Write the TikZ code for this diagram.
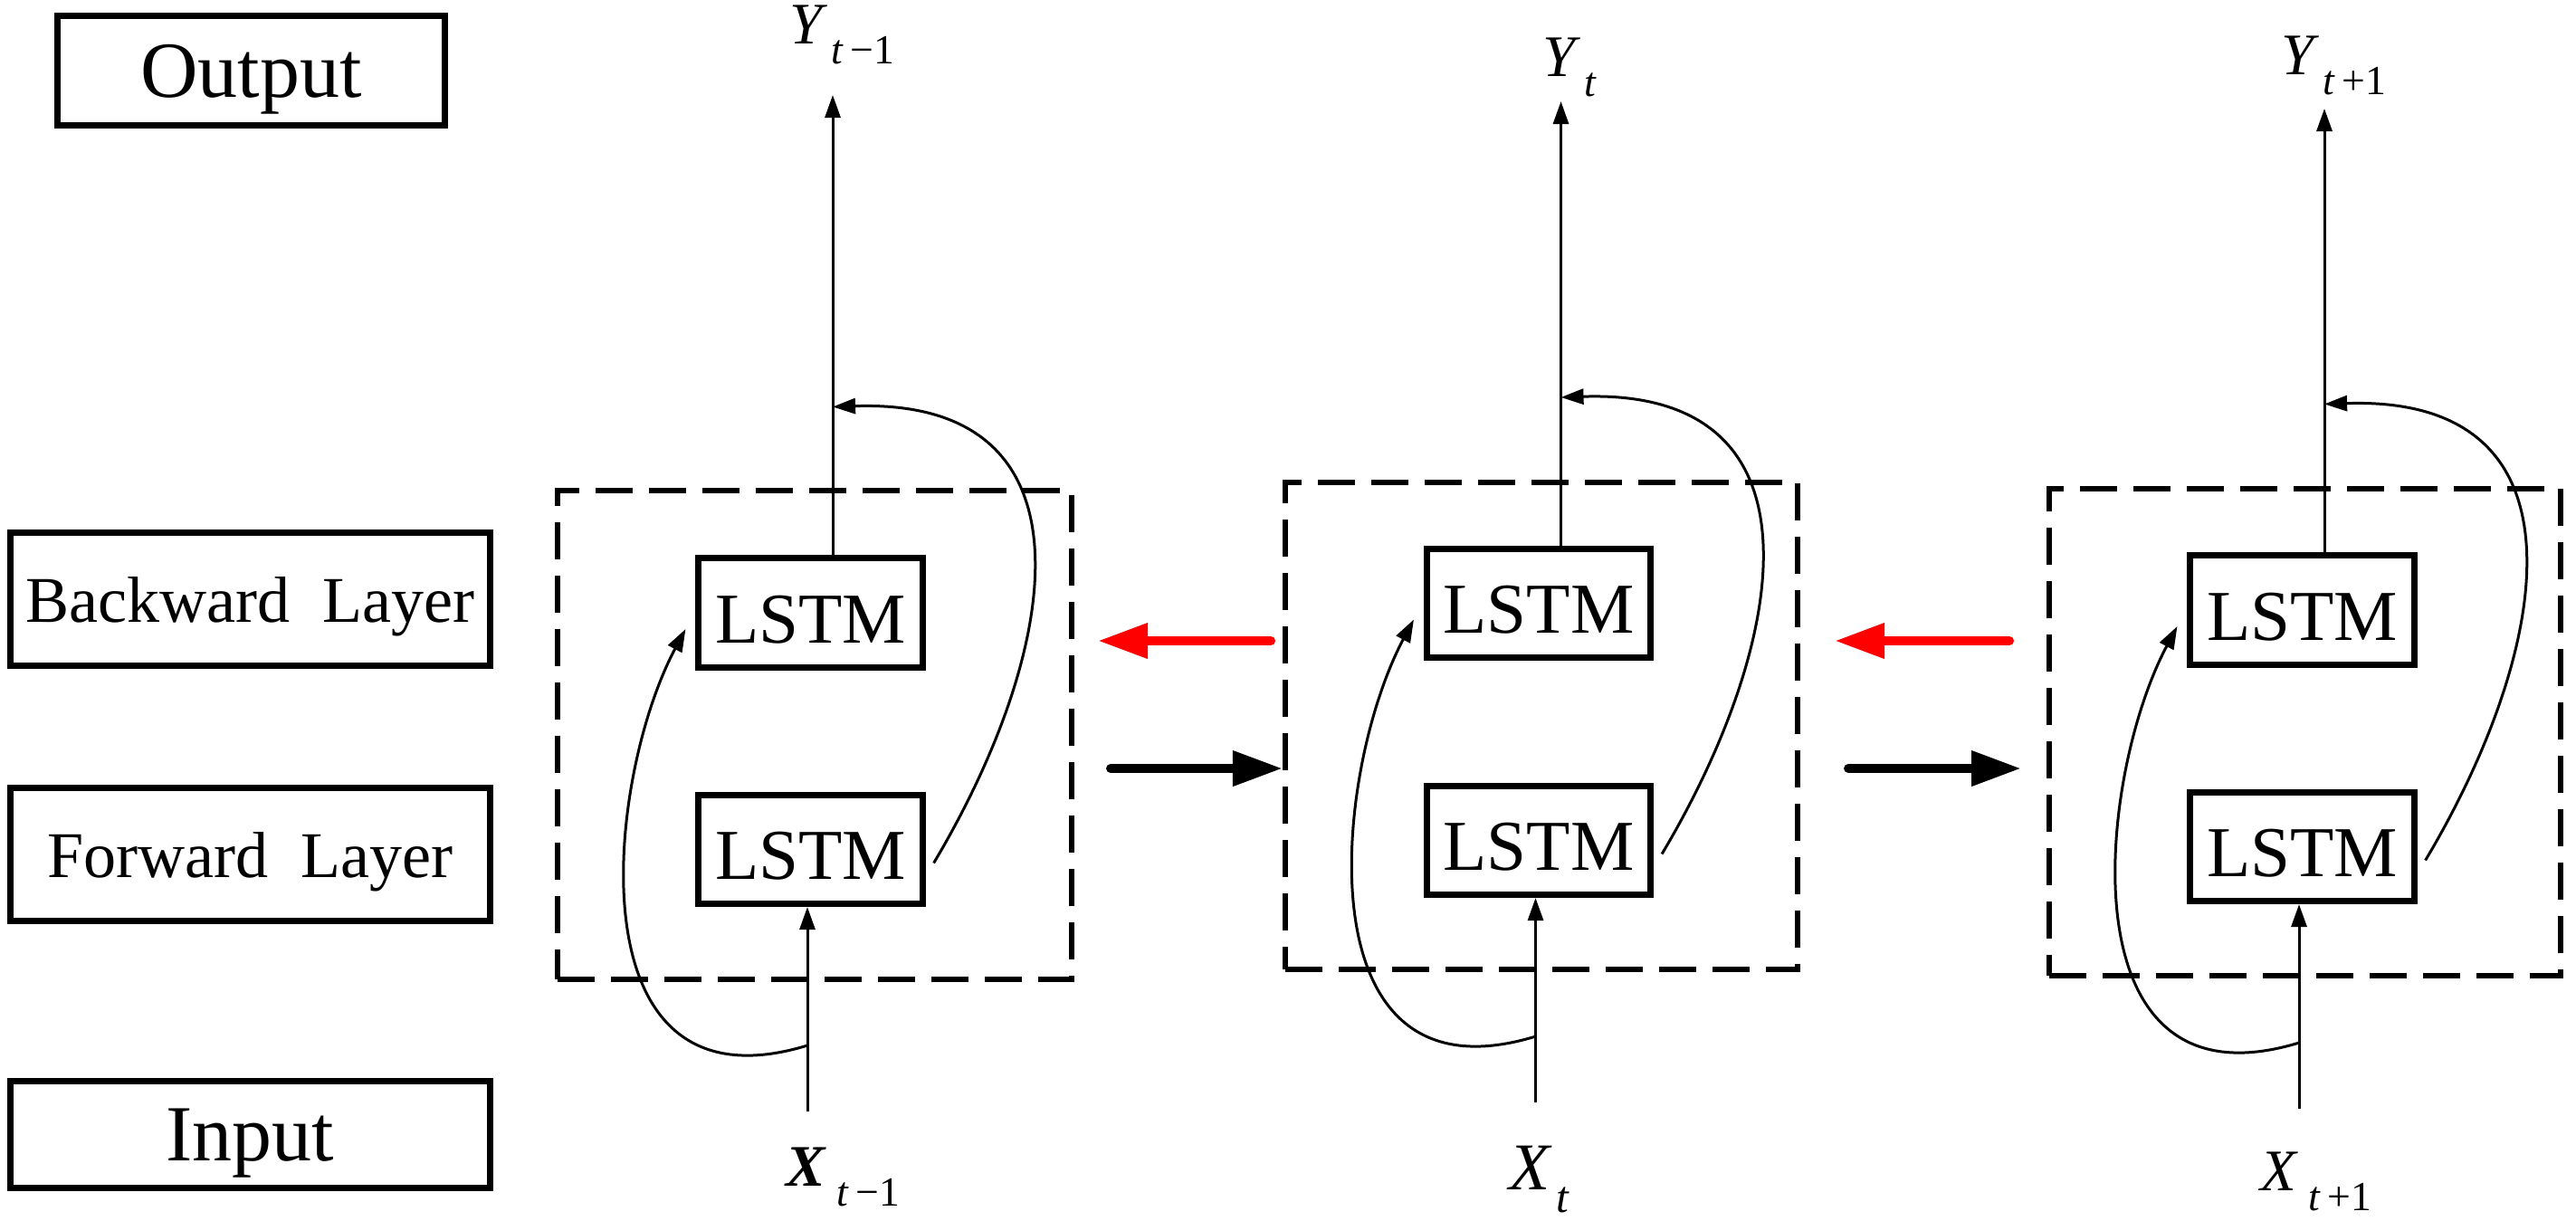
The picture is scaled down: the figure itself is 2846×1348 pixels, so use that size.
\documentclass[tikz,border=0pt]{standalone}
\usepackage{fontspec}
\setmainfont{Liberation Serif}
\usetikzlibrary{calc,arrows.meta}
\newcommand{\varlab}[3]{#1\kern0.06em\raisebox{-0.34em}{\fontsize{#3}{#3}\selectfont #2}}
\tikzset{
  lstm/.style={draw, line width=0.07cm, minimum width=2.47cm, minimum height=1.20cm,
    inner sep=0pt, text height=19pt, text depth=0pt, font=\fontsize{22.5}{22.5}\selectfont},
  labbox/.style={draw, line width=0.07cm, inner sep=0pt, text depth=0pt},
  cellbox/.style={draw, line width=0.06cm, dash pattern=on 0.41cm off 0.18cm, inner sep=0pt, outer sep=0pt},
  thinarr/.style={line width=0.03cm, -{Triangle[length=0.25cm, width=0.17cm]}},
  bigarr/.style={line width=0.10cm, line cap=round, -{Triangle[length=0.55cm, width=0.37cm]}},
  varnode/.style={inner sep=0pt, anchor=base west, font=\fontsize{18.5}{18.5}\selectfont}
}
\newcommand{\cellunit}[9]{%
  \node[lstm] (bw#1) at (#2,#3) {LSTM};
  \node[lstm] (fw#1) at (#2,#4) {LSTM};
  \node[cellbox, minimum width=#8, minimum height=#9] (cell#1) at (#6,#7) {};
  \coordinate (yt#1) at ($(bw#1.north)+(24.5,0)$);
  \coordinate (ytip#1) at (yt#1 |- 0,#5);
  \draw[thinarr] (yt#1) -- (ytip#1);
  \coordinate (m#1) at ($(bw#1.north)+(24.5,-164)$);
  \coordinate (xb#1) at ($(fw#1.south)+(-3.5,226)$);
  \coordinate (xt#1) at ($(fw#1.south)+(-3.5,0)$);
  \coordinate (j#1) at ($(fw#1.south)+(-3.5,153)$);
  \draw[thinarr] (xb#1) -- (xt#1);
  \coordinate (s#1) at ($(fw#1.east)+(9,15)$);
  \draw[thinarr] (s#1) .. controls ($(s#1)+(139,-233)$) and ($(m#1)+(300,-10)$) .. (m#1);
  \coordinate (t#1) at ($(bw#1.west)+(-11,18)$);
  \draw[thinarr] (j#1) .. controls ($(j#1)+(-262,80)$) and ($(t#1)+(-88,165)$) .. (t#1);
}
\begin{document}
\begin{tikzpicture}[x=0.01cm, y=-0.01cm]
\useasboundingbox (0,0) rectangle (2846,1348);

% left labels
\node[labbox, minimum width=4.28cm, minimum height=1.20cm, font=\fontsize{25}{25}\selectfont] (outlab) at (277.5,78) {Output};
\node[labbox, minimum width=5.30cm, minimum height=1.47cm, font=\fontsize{20.5}{20.5}\selectfont] (bwlab) at (276.5,662) {Backward~~Layer};
\node[labbox, minimum width=5.30cm, minimum height=1.47cm, font=\fontsize{20.5}{20.5}\selectfont] (fwlab) at (276.5,944) {Forward~~Layer};
\node[labbox, minimum width=5.30cm, minimum height=1.18cm, font=\fontsize{25}{25}\selectfont] (inlab) at (276.5,1253.5) {Input};

% cells
\cellunit{1}{895.5}{677}{938.5}{105}{900}{812}{5.68cm}{5.40cm}
\cellunit{2}{1700}{666.5}{928.5}{112}{1703}{802}{5.66cm}{5.38cm}
\cellunit{3}{2543.5}{674}{935.5}{120}{2546.5}{809}{5.65cm}{5.38cm}

% labels
\node[varnode] (Y1) at (872,48) {\varlab{\textit{Y}}{\textit{t}\,−1}{13}};
\node[varnode] (Y2) at (1704,84) {\varlab{\textit{Y}}{\textit{t}}{13}};
\node[varnode] (Y3) at (2520,82) {\varlab{\textit{Y}}{\textit{t}\,+1}{13}};
\node[varnode] (X1) at (868,1310) {\varlab{\textbf{\textit{X}}}{\kern0.15em\textit{t}\,−1}{13}};
\node[varnode, font=\fontsize{21}{21}\selectfont] (X2) at (1667,1314) {\varlab{\textit{X}}{\textit{t}}{14}};
\node[varnode] (X3) at (2497,1315) {\varlab{\textit{X}}{\kern0.15em\textit{t}\,+1}{13}};

% connectors between cells
\coordinate (r1a) at (1404,708);
\coordinate (r1b) at (1213,708);
\coordinate (r2a) at (2220,708);
\coordinate (r2b) at (2027,708);
\coordinate (k1a) at (1227,849);
\coordinate (k1b) at (1417,849);
\coordinate (k2a) at (2042,849);
\coordinate (k2b) at (2233,849);
\draw[bigarr, red] (r1a) -- (r1b);
\draw[bigarr, red] (r2a) -- (r2b);
\draw[bigarr] (k1a) -- (k1b);
\draw[bigarr] (k2a) -- (k2b);
\end{tikzpicture}
\end{document}
